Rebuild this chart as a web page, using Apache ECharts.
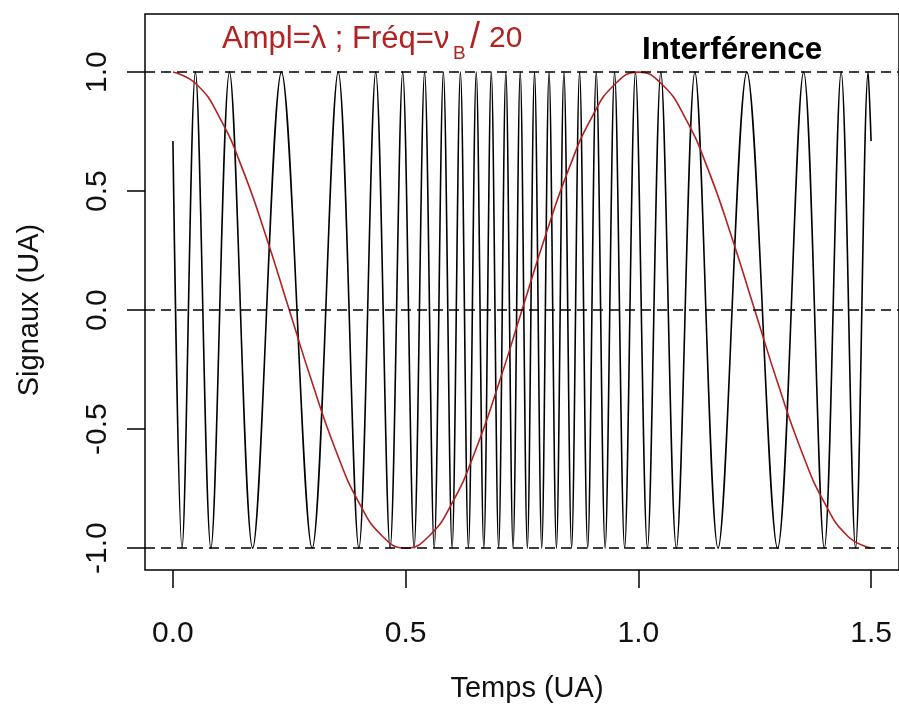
<!DOCTYPE html>
<html>
<head>
<meta charset="utf-8">
<script src="https://cdn.jsdelivr.net/npm/echarts@6/dist/echarts.min.js"></script>
<style>
  html, body { margin: 0; padding: 0; background: #fff; }
  #chart { width: 899px; height: 716px; }
</style>
</head>
<body>
<div id="chart"></div>
<script>
// turning points of the interference signal (time, value)
var signalTimes = [0, 0.0195, 0.0483, 0.0816, 0.1215, 0.1713, 0.2332, 0.2991, 0.3551, 0.3995,
    0.4357, 0.4666, 0.4937, 0.5181, 0.5407, 0.5614, 0.5811, 0.5998, 0.6177, 0.6349,
    0.6517, 0.6680, 0.6840, 0.6998, 0.7153, 0.7308, 0.7462, 0.7615, 0.7769, 0.7924,
    0.8081, 0.8240, 0.8401, 0.8566, 0.8737, 0.8912, 0.9095, 0.9286, 0.9489, 0.9705,
    0.9938, 1.0195, 1.0483, 1.0816, 1.1215, 1.1713, 1.2332, 1.2991, 1.3551, 1.3995,
    1.4357, 1.4666, 1.4937, 1.5];
var signalValues = [0.71, -1, 1, -1, 1, -1, 1, -1, 1, -1,
    1, -1, 1, -1, 1, -1, 1, -1, 1, -1,
    1, -1, 1, -1, 1, -1, 1, -1, 1, -1,
    1, -1, 1, -1, 1, -1, 1, -1, 1, -1,
    1, -1, 1, -1, 1, -1, 1, -1, 1, -1,
    1, -1, 1, 0.71];

// mirror position (red curve)
var mirrorTimes = [0, 0.05, 0.1, 0.15, 0.2, 0.25, 0.3, 0.35, 0.4, 0.45,
    0.5, 0.55, 0.6, 0.65, 0.7, 0.75, 0.8, 0.85, 0.9, 0.95,
    1.0, 1.05, 1.1, 1.15, 1.2, 1.25, 1.3, 1.35, 1.4, 1.45, 1.5];
var mirrorValues = [1, 0.95, 0.81, 0.59, 0.31, 0, -0.31, -0.59, -0.81, -0.95,
    -1, -0.95, -0.81, -0.59, -0.31, 0, 0.31, 0.59, 0.81, 0.95,
    1, 0.95, 0.81, 0.59, 0.31, 0, -0.31, -0.59, -0.81, -0.95, -1];

var timeTicks = [0, 0.5, 1, 1.5];
var signalTicks = [-1, -0.5, 0, 0.5, 1];
var refLevels = [-1, 0, 1];

var font = 'Liberation Sans, Arial, sans-serif';
var red = '#b22222';

function pairs(xs, ys) {
    return xs.map(function (x, i) { return [x, ys[i]]; });
}

var chart = echarts.init(document.getElementById('chart'));
chart.setOption({
    animation: false,
    backgroundColor: '#fff',
    grid: {
        left: 145, top: 14, width: 761, height: 556,
        show: true, borderColor: '#000', borderWidth: 1.5
    },
    xAxis: {
        type: 'value', min: -0.06, max: 1.56,
        axisLine: { show: false, onZero: false },
        splitLine: { show: false },
        axisTick: { customValues: timeTicks, length: 18, lineStyle: { color: '#000', width: 1.5 } },
        axisLabel: {
            customValues: timeTicks, margin: 49, fontSize: 30, fontFamily: font, color: '#111',
            formatter: function (v) { return v.toFixed(1); }
        }
    },
    yAxis: {
        type: 'value', min: -1.092, max: 1.244,
        axisLine: { show: false, onZero: false },
        splitLine: { show: false },
        axisTick: { customValues: signalTicks, length: 18, lineStyle: { color: '#000', width: 1.5 } },
        axisLabel: {
            customValues: signalTicks, rotate: 90, margin: 32, fontSize: 30, fontFamily: font, color: '#111',
            formatter: function (v) { return v.toFixed(1); }
        }
    },
    series: [
        {
            type: 'line',
            data: pairs(signalTimes, signalValues),
            showSymbol: false,
            smooth: 0.33,
            lineStyle: { color: '#000', width: 1.6 },
            markLine: {
                silent: true,
                symbol: ['none', 'none'],
                label: { show: false },
                lineStyle: { color: '#000', width: 1.5, type: [10, 6] },
                data: refLevels.map(function (v) { return { yAxis: v }; })
            }
        },
        {
            type: 'line',
            data: pairs(mirrorTimes, mirrorValues),
            showSymbol: false,
            smooth: true,
            lineStyle: { color: red, width: 1.6 }
        }
    ],
    graphic: [
        {
            type: 'text', left: 222, top: 24,
            style: { text: 'Ampl=λ ; Fréq=ν', fontSize: 31, fontFamily: font, fill: red }
        },
        {
            type: 'text', left: 453, top: 44,
            style: { text: 'B', fontSize: 19, fontFamily: font, fill: red }
        },
        {
            type: 'text', left: 470, top: 20,
            style: { text: '/', fontSize: 36, fontFamily: font, fill: red }
        },
        {
            type: 'text', left: 489, top: 24,
            style: { text: '20', fontSize: 30, fontFamily: font, fill: red }
        },
        {
            type: 'text', left: 642, top: 34,
            style: { text: 'Interférence', fontSize: 31.5, fontWeight: 'bold', fontFamily: font, fill: '#000' }
        },
        {
            type: 'text', x: 30, y: 310, rotation: Math.PI / 2,
            style: { text: 'Signaux (UA)', fontSize: 29, fontFamily: font, fill: '#111', align: 'center', verticalAlign: 'middle' }
        },
        {
            type: 'text', x: 527, y: 689,
            style: { text: 'Temps (UA)', fontSize: 29, fontFamily: font, fill: '#111', align: 'center', verticalAlign: 'middle' }
        }
    ]
});
</script>
</body>
</html>
